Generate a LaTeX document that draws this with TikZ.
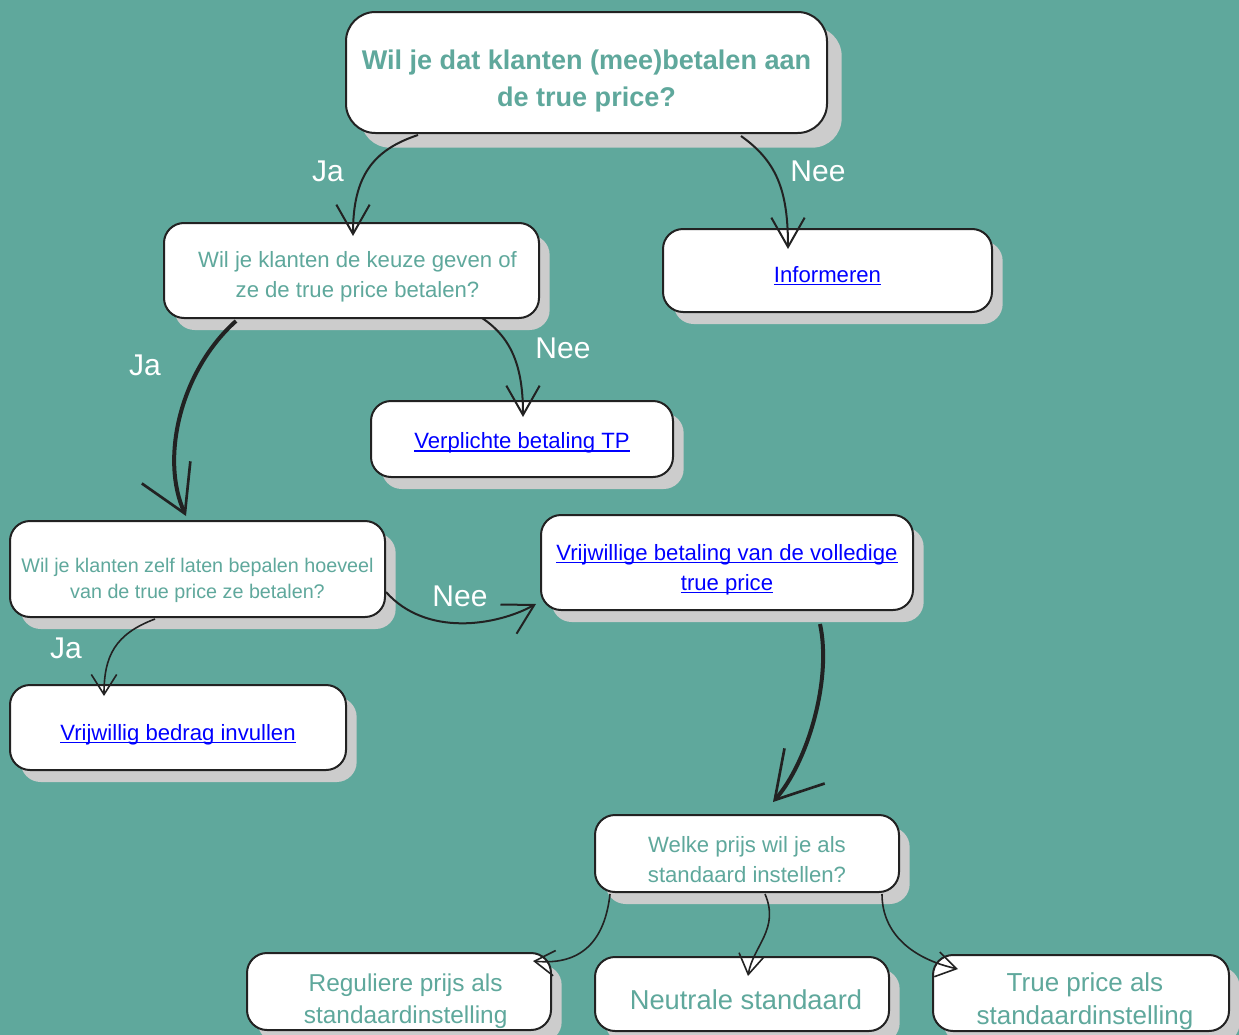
\documentclass[tikz,border=0pt]{standalone}
\usepackage{fontspec}
\setmainfont{Liberation Sans}
\usetikzlibrary{arrows.meta,shadows}

\definecolor{tealbg}{RGB}{95,168,156}
\definecolor{tealtxt}{RGB}{95,168,156}
\definecolor{shadowgray}{RGB}{204,204,204}
\definecolor{linkblue}{RGB}{0,0,255}
\definecolor{inkline}{RGB}{34,34,34}

% underlined link text
\newcommand{\linkul}[1]{\setbox0\hbox{#1}\rlap{\rule[-2.2pt]{\wd0}{1pt}}\box0}
% invisible strut that pushes the text lines down
\newcommand{\txtgap}[1]{\rule{0pt}{#1}}

\tikzset{every picture/.style={line width=0.75pt}}
\tikzset{
	boxbase/.style={draw=inkline,line width=1.5pt,fill=white,rounded corners=15pt,align=center,inner sep=0pt},
	qbox/.style={boxbase,drop shadow={shadow xshift=8pt,shadow yshift=-9pt,fill=shadowgray,opacity=1}},
	topbox/.style={boxbase,rounded corners=22pt,drop shadow={shadow xshift=11pt,shadow yshift=-11pt,fill=shadowgray,opacity=1}},
	asktxt/.style={text=tealtxt,font=\fontsize{16.6}{22.5}\selectfont},
	linktxt/.style={text=linkblue,font=\fontsize{16.6}{22.5}\selectfont},
	lbl/.style={text=white,font=\fontsize{22.5}{27}\selectfont,inner sep=0pt},
	arr/.style={draw=inkline,line width=1.5pt,-{Straight Barb[length=22pt,width=25pt,line width=1.5pt]}},
	bigarr/.style={draw=inkline,line width=3pt,-{Straight Barb[length=34pt,width=40pt,line width=2pt]}},
	smallarr/.style={draw=inkline,line width=1.2pt,-{Straight Barb[length=15pt,width=19pt,line width=1.2pt]}}
}

\begin{document}
\begin{tikzpicture}[x=0.75pt,y=0.75pt,yscale=-1,xscale=1]
	%set diagram to the reference size
	\fill[tealbg] (0,0) rectangle (1239,1035);
	\useasboundingbox (0,0) rectangle (1239,1035);

	%Shape: Rounded Rect [top question]
	\node[topbox,minimum width=360.75pt,minimum height=90.75pt,text=tealtxt,font=\bfseries\fontsize{20.3}{27.75}\selectfont] (qpay) at (586.5,72.5) {\txtgap{26.8pt}Wil je dat klanten (mee)betalen aan\\de true price?};
	%Shape: Rounded Rect
	\node[qbox,asktxt,minimum width=281.25pt,minimum height=71.25pt] (qchoice) at (351.5,270.5) {\txtgap{21.9pt}\hspace*{9pt}Wil je klanten de keuze geven of\\\hspace*{9pt}ze de true price betalen?};
	%Shape: Rounded Rect
	\node[qbox,linktxt,minimum width=246.75pt,minimum height=62.25pt] (inform) at (827.5,270.5) {\txtgap{19.6pt}\linkul{Informeren}};
	%Shape: Rounded Rect
	\node[qbox,linktxt,minimum width=226.5pt,minimum height=57pt] (mandatory) at (522,439) {\txtgap{18.1pt}\linkul{Verplichte betaling TP}};
	%Shape: Rounded Rect
	\node[qbox,text=tealtxt,font=\fontsize{14.8}{19.5}\selectfont,minimum width=281.25pt,minimum height=72pt] (qamount) at (197.5,569) {\txtgap{27.3pt}Wil je klanten zelf laten bepalen hoeveel\\van de true price ze betalen?};
	%Shape: Rounded Rect
	\node[qbox,linktxt,minimum width=279pt,minimum height=71.25pt] (fullpay) at (727,562.5) {\txtgap{22.6pt}\linkul{Vrijwillige betaling van de volledige}\\\linkul{true price}};
	%Shape: Rounded Rect
	\node[qbox,linktxt,minimum width=252pt,minimum height=63.75pt] (freeamount) at (178,727.5) {\txtgap{22.6pt}\linkul{Vrijwillig bedrag invullen}};
	%Shape: Rounded Rect
	\node[qbox,asktxt,minimum width=228pt,minimum height=57.75pt] (qdefault) at (747,853.5) {\txtgap{21.1pt}Welke prijs wil je als\\standaard instellen?};
	%Shape: Rounded Rect
	\node[qbox,text=tealtxt,font=\fontsize{18.3}{24}\selectfont,minimum width=228pt,minimum height=57.75pt] (regular) at (399,991.5) {\txtgap{27.6pt}\hspace*{10pt}Reguliere prijs als\\\hspace*{10pt}standaardinstelling};
	%Shape: Rounded Rect
	\node[qbox,text=tealtxt,font=\fontsize{20.5}{24}\selectfont,minimum width=220.5pt,minimum height=55.5pt] (neutral) at (742,994) {\txtgap{24pt}\hspace*{6pt}Neutrale standaard};
	%Shape: Rounded Rect
	\node[qbox,text=tealtxt,font=\fontsize{19.5}{25}\selectfont,minimum width=222pt,minimum height=57pt] (truedef) at (1081,993) {\txtgap{26.2pt}\hspace*{6pt}True price als\\\hspace*{6pt}standaardinstelling};

	%Curve Lines
	\draw[arr] ([shift={(-168.5,1)}]qpay.south) .. controls +(-45,15) and +(0,-60) .. ([shift={(1.5,14)}]qchoice.north);
	\draw[arr] ([shift={(154.5,2)}]qpay.south) .. controls +(35,25) and +(0,-60) .. ([shift={(-39.5,21)}]inform.north);
	\draw[arr] ([shift={(130.5,-1)}]qchoice.south) .. controls +(30,20) and +(0,-50) .. ([shift={(1,17)}]mandatory.north);
	\draw[bigarr] ([shift={(-115.5,2)}]qchoice.south) .. controls +(-56,50) and +(-26,-57) .. ([shift={(-11.5,-4)}]qamount.north);
	\draw[arr] ([shift={(0,23)}]qamount.east) .. controls +(40,45) and +(-40,22) .. ([shift={(-4,41.5)}]fullpay.west);
	\draw[smallarr] ([shift={(-42.5,1)}]qamount.south) .. controls +(-40,15) and +(0,-40) .. ([shift={(-74,12)}]freeamount.north);
	\draw[bigarr] ([shift={(93,13)}]fullpay.south) .. controls +(12,55) and +(35,-40) .. ([shift={(26,-12)}]qdefault.north);
	\draw[smallarr] ([shift={(-137,1)}]qdefault.south) .. controls +(-5,45) and +(50,5) .. ([shift={(134,9)}]regular.north);
	\draw[smallarr] ([shift={(18,1)}]qdefault.south) .. controls +(15,35) and +(5,-30) .. ([shift={(6,20)}]neutral.north);
	\draw[smallarr] ([shift={(135,1)}]qdefault.south) .. controls +(0,40) and +(-45,-10) .. ([shift={(-123,15)}]truedef.north);

	% Text Node
	\node[lbl] (jaTop) at (328,171) {Ja};
	% Text Node
	\node[lbl] (neeTop) at (818,171) {Nee};
	% Text Node
	\node[lbl] (neeChoice) at (563,348) {Nee};
	% Text Node
	\node[lbl] (jaChoice) at (145,365) {Ja};
	% Text Node
	\node[lbl] (neeAmount) at (460,596) {Nee};
	% Text Node
	\node[lbl] (jaAmount) at (66,648) {Ja};
\end{tikzpicture}
\end{document}
